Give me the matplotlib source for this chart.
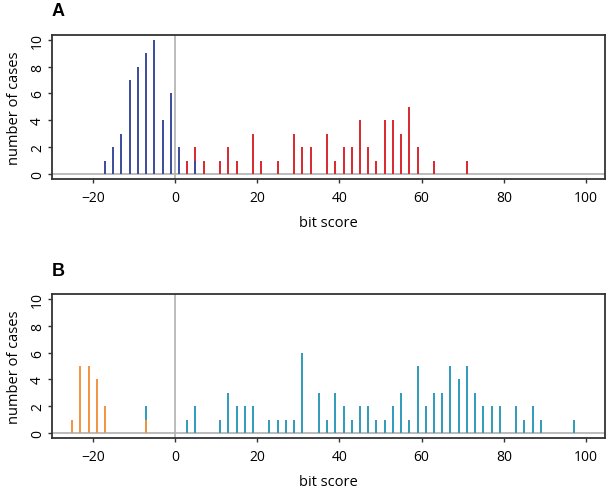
import matplotlib
matplotlib.use("Agg")
import matplotlib.pyplot as plt
import numpy as np

# Panel A
blue_x = [-17, -15, -13, -11, -9, -7, -5, -3, -1, 1, 3, 5]
blue_y = [1, 2, 3, 7, 8, 9, 10, 4, 6, 2, 0, 1]
red_x = [3, 5, 7, 9, 11, 13, 15, 17, 19, 21, 23, 25, 27, 29, 31, 33, 35, 37, 39,
         41, 43, 45, 47, 49, 51, 53, 55, 57, 59, 61, 63, 65, 67, 69, 71]
red_y = [1, 2, 1, 0, 1, 2, 1, 0, 3, 1, 0, 1, 0, 3, 2, 2, 0, 3, 1,
         2, 2, 4, 2, 1, 4, 4, 3, 5, 2, 0, 1, 0, 0, 0, 1]

# Panel B
orange_x = [-25, -23, -21, -19, -17, -15, -13, -11, -9, -7, -5, -3, -1]
orange_y = [1, 5, 5, 4, 2, 0, 0, 0, 0, 1, 0, 0, 0]
teal_x = [-7, 1, 3, 5, 7, 9, 11, 13, 15, 17, 19, 21, 23, 25, 27, 29, 31, 33, 35,
          37, 39, 41, 43, 45, 47, 49, 51, 53, 55, 57, 59, 61, 63, 65, 67, 69,
          71, 73, 75, 77, 79, 81, 83, 85, 87, 89, 91, 93, 95, 97]
teal_y = [2, 0, 1, 2, 0, 0, 1, 3, 2, 2, 2, 0, 1, 1, 1, 1, 6, 0, 3,
          1, 3, 2, 1, 2, 2, 1, 1, 2, 3, 1, 5, 2, 3, 3, 5, 4,
          5, 3, 2, 2, 2, 0, 2, 1, 2, 1, 0, 0, 0, 1]

x_ticks = [-20, 0, 20, 40, 60, 80, 100]
y_ticks = [0, 2, 4, 6, 8, 10]

plt.rcParams['font.family'] = ['Open Sans', 'DejaVu Sans']

W, H = 610, 489
fig = plt.figure(figsize=(W / 100, H / 100), dpi=100)

def make_axes(top, bottom):
    left, right = 52, 605
    return fig.add_axes([left / W, 1 - bottom / H, (right - left) / W, (bottom - top) / H])

axA = make_axes(35.7, 180)
axB = make_axes(295, 439)

def style(ax):
    ax.set_xlim(-29.9, 104.6)
    ax.set_ylim(-0.37, 10.37)
    ax.axhline(0, color='#b0b0b0', lw=1.2, zorder=1)
    ax.axvline(0, color='#b0b0b0', lw=1.2, zorder=1)
    ax.set_xticks(x_ticks)
    ax.set_yticks(y_ticks)
    ax.tick_params(axis='x', labelsize=10, length=3, width=1, color='#333333', pad=5)
    ax.tick_params(axis='y', labelsize=10, length=3, width=1, color='#333333', pad=2)
    for lab in ax.get_yticklabels():
        lab.set_rotation(90)
        lab.set_va('center')
    for s in ax.spines.values():
        s.set_linewidth(1.3)
        s.set_color('#333333')
    ax.set_xlabel('bit score', fontsize=10.5, labelpad=7)
    ax.set_ylabel('number of cases', fontsize=10.5, labelpad=6)

lw = 1.4
axA.vlines(red_x, 0, red_y, color='#d9282e', lw=lw, zorder=2)
axA.vlines(blue_x, 0, blue_y, color='#3a4c9c', lw=lw, zorder=3)
style(axA)

axB.vlines(teal_x, 0, teal_y, color='#2f9bba', lw=lw, zorder=2)
axB.vlines(orange_x, 0, orange_y, color='#f0943f', lw=lw, zorder=3)
style(axB)

fig.text(58 / W, 1 - 12 / H, 'A', fontsize=13, fontweight='bold', ha='center', va='center',
         family=['Liberation Sans', 'DejaVu Sans'])
fig.text(58 / W, 1 - 271 / H, 'B', fontsize=13, fontweight='bold', ha='center', va='center',
         family=['Liberation Sans', 'DejaVu Sans'])

fig.savefig('out.png', dpi=100)
